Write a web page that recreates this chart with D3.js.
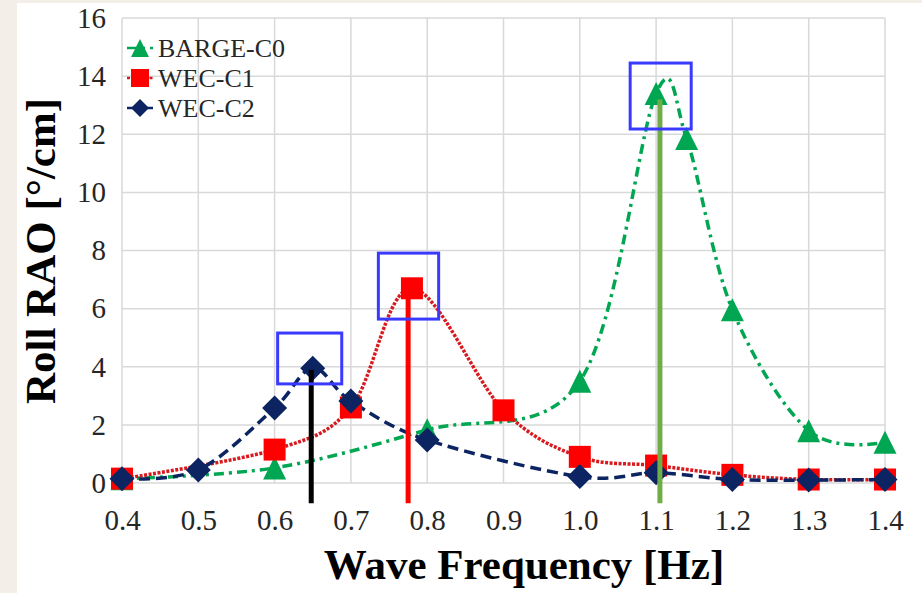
<!DOCTYPE html>
<html>
<head>
<meta charset="utf-8">
<script src="https://cdn.jsdelivr.net/npm/d3@7"></script>
<style>
  body { margin: 0; background: #f3efe8; }
  svg { display: block; }
</style>
</head>
<body>
<div id="foo"></div>
<script>
// frequencies (Hz) and roll RAO (deg/cm)
var bargeX = [0.4, 0.6, 0.8, 1.0, 1.1, 1.14, 1.2, 1.3, 1.4];
var bargeY = [0.15, 0.52, 1.83, 3.5, 13.4, 11.85, 5.96, 1.8, 1.4];

var wec1X = [0.4, 0.6, 0.7, 0.78, 0.9, 1.0, 1.1, 1.2, 1.3, 1.4];
var wec1Y = [0.15, 1.15, 2.6, 6.7, 2.5, 0.9, 0.6, 0.28, 0.12, 0.12];

var wec2X = [0.4, 0.5, 0.6, 0.65, 0.7, 0.8, 1.0, 1.1, 1.2, 1.3, 1.4];
var wec2Y = [0.15, 0.45, 2.58, 3.95, 2.82, 1.48, 0.22, 0.35, 0.12, 0.1, 0.12];

var xTicks = [0.4, 0.5, 0.6, 0.7, 0.8, 0.9, 1.0, 1.1, 1.2, 1.3, 1.4];
var yTicks = [0, 2, 4, 6, 8, 10, 12, 14, 16];

// peak markers (vertical bars) and highlight boxes, in data units
var peakFreq = [0.648, 0.775, 1.105];
var peakTop = [3.9, 6.65, 13.2];
var peakBottom = -0.7;
var boxX0 = [0.604, 0.736, 1.066];
var boxX1 = [0.688, 0.815, 1.146];
var boxY0 = [3.41, 5.64, 12.18];
var boxY1 = [5.16, 7.91, 14.45];

var W = 922, H = 593;
var plotL = 122, plotR = 885, plotT = 18, plotB = 483;

var x = d3.scaleLinear().domain([0.4, 1.4]).range([plotL, plotR]);
var y = d3.scaleLinear().domain([0, 16]).range([plotB, plotT]);

var serif = '"Liberation Serif", "Times New Roman", serif';

var svg = d3.select('#foo').append('svg')
  .attr('width', W)
  .attr('height', H);

svg.append('rect')
  .attr('x', 17).attr('y', 3)
  .attr('width', W - 17).attr('height', H - 3)
  .style('fill', '#fff');

// grid
svg.append('g').selectAll('line').data(xTicks).enter().append('line')
  .attr('x1', d => x(d)).attr('x2', d => x(d))
  .attr('y1', y(16)).attr('y2', y(0))
  .style('stroke', '#d9d9d9').style('stroke-width', 1.5);

svg.append('g').selectAll('line').data(yTicks).enter().append('line')
  .attr('x1', x(0.4)).attr('x2', x(1.4))
  .attr('y1', d => y(d)).attr('y2', d => y(d))
  .style('stroke', '#d9d9d9').style('stroke-width', 1.5);

// axes (labels only, Excel style)
var xAxis = svg.append('g')
  .attr('transform', 'translate(0,' + (plotB + 23) + ')')
  .call(d3.axisBottom(x).tickValues(xTicks).tickFormat(d3.format('.1f')).tickSize(0));
var yAxis = svg.append('g')
  .attr('transform', 'translate(' + (plotL - 13) + ',0)')
  .call(d3.axisLeft(y).tickValues(yTicks).tickSize(0));

[xAxis, yAxis].forEach(function (g) {
  g.select('.domain').remove();
  g.selectAll('text')
    .style('font-family', serif)
    .style('font-size', '29px')
    .style('fill', '#262626');
});

// custom excel-like markers
var tri = { draw: function (c, s) { var r = Math.sqrt(s) / 2; c.moveTo(0, -r); c.lineTo(r, r); c.lineTo(-r, r); c.closePath(); } };
var sq = { draw: function (c, s) { var r = Math.sqrt(s) / 2; c.rect(-r, -r, 2 * r, 2 * r); } };
var dia = { draw: function (c, s) { var r = Math.sqrt(s) / 2; c.moveTo(0, -r); c.lineTo(r, 0); c.lineTo(0, r); c.lineTo(-r, 0); c.closePath(); } };

var series = [
  { name: 'BARGE-C0', xs: bargeX, ys: bargeY, color: '#00a651', line: '#00a651', dash: '10,5,3,5', width: 3.5, sym: tri, size: 23 },
  { name: 'WEC-C1', xs: wec1X, ys: wec1Y, color: '#ff0000', line: '#d81a1f', dash: '3,1.5', width: 3.5, sym: sq, size: 22 },
  { name: 'WEC-C2', xs: wec2X, ys: wec2Y, color: '#0c2461', line: '#0c2461', dash: '11,6', width: 3.5, sym: dia, size: 25 }
];

var line = d3.line().curve(d3.curveCatmullRom.alpha(0));

series.forEach(function (s) {
  var pts = s.xs.map(function (v, i) { return [x(v), y(s.ys[i])]; });
  svg.append('path')
    .attr('d', line(pts))
    .style('fill', 'none')
    .style('stroke', s.line)
    .style('stroke-width', s.width)
    .style('stroke-dasharray', s.dash);
});

series.forEach(function (s) {
  svg.append('g').selectAll('path').data(s.xs).enter().append('path')
    .attr('transform', (d, i) => 'translate(' + x(d) + ',' + y(s.ys[i]) + ')')
    .attr('d', d3.symbol().type(s.sym).size(s.size * s.size))
    .style('fill', s.color);
});

// peak bars
var peakColor = ['#000000', '#ff0000', '#70ad47'];
svg.append('g').selectAll('line').data(peakFreq).enter().append('line')
  .attr('x1', d => x(d)).attr('x2', d => x(d))
  .attr('y1', (d, i) => y(peakTop[i]))
  .attr('y2', y(peakBottom))
  .style('stroke', (d, i) => peakColor[i])
  .style('stroke-width', 5);

// highlight boxes
svg.append('g').selectAll('rect').data(boxX0).enter().append('rect')
  .attr('x', d => x(d))
  .attr('y', (d, i) => y(boxY1[i]))
  .attr('width', (d, i) => x(boxX1[i]) - x(d))
  .attr('height', (d, i) => y(boxY0[i]) - y(boxY1[i]))
  .style('fill', 'none')
  .style('stroke', '#3a3aff')
  .style('stroke-width', 3);

// legend
var leg = svg.append('g');
series.forEach(function (s, i) {
  var ly = 48 + i * 30;
  leg.append('line')
    .attr('x1', 127).attr('x2', 153)
    .attr('y1', ly).attr('y2', ly)
    .style('stroke', s.line)
    .style('stroke-width', 2.5)
    .style('stroke-dasharray', s.dash);
  leg.append('path')
    .attr('transform', 'translate(140,' + ly + ')')
    .attr('d', d3.symbol().type(s.sym).size(18 * 18))
    .style('fill', s.color);
  leg.append('text')
    .attr('x', 158).attr('y', ly)
    .attr('dy', '0.35em')
    .style('font-family', serif)
    .style('font-size', '26px')
    .style('fill', '#262626')
    .text(s.name);
});

// axis titles
svg.append('text')
  .attr('x', 524).attr('y', 579)
  .attr('text-anchor', 'middle')
  .style('font-family', serif)
  .style('font-weight', 'bold')
  .style('font-size', '43px')
  .text('Wave Frequency [Hz]');

svg.append('text')
  .attr('transform', 'translate(40,251) rotate(-90)')
  .attr('text-anchor', 'middle')
  .attr('dy', '0.35em')
  .style('font-family', serif)
  .style('font-weight', 'bold')
  .style('font-size', '43px')
  .text('Roll RAO [°/cm]');
</script>
</body>
</html>
